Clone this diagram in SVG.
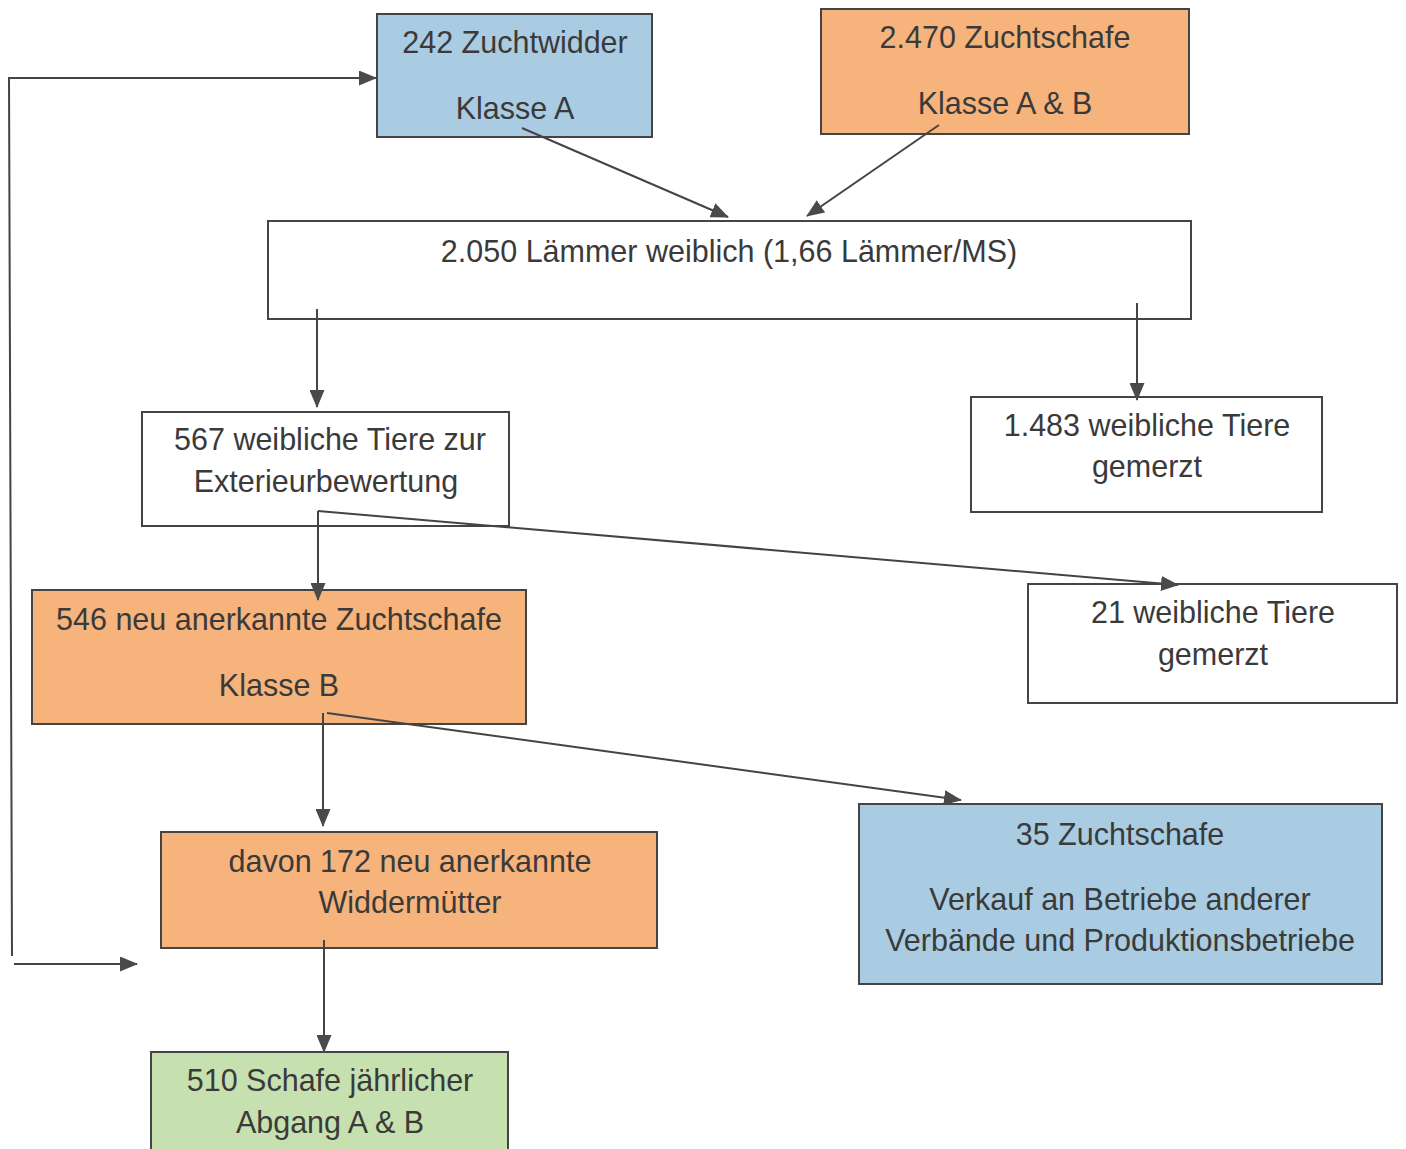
<svg xmlns="http://www.w3.org/2000/svg" width="1406" height="1149" viewBox="0 0 1406 1149">
<style>
.box{stroke:#444;stroke-width:2}
.blue{fill:#a9cce2}
.orange{fill:#f6b37c}
.green{fill:#c7e0b0}
.white{fill:#fff}
text{font-family:"Liberation Sans",Arial,sans-serif;font-size:30.5px;fill:#3a3a3a;text-anchor:middle}
.conn{stroke:#444;stroke-width:2;fill:none;marker-end:url(#arr)}
</style>
<defs>
<marker id="arr" markerUnits="userSpaceOnUse" markerWidth="19" markerHeight="15" refX="17" refY="7.5" orient="auto">
<path d="M0,0 L18,7.5 L0,15 Z" fill="#4a4a4a"/>
</marker>
</defs>
<rect width="1406" height="1149" fill="#fff"/>
<g id="n_zuchtwidder">
<rect class="box blue" x="377" y="14" width="275" height="123"/>
<text x="515" y="53">242 Zuchtwidder</text>
<text x="515" y="119">Klasse A</text>
</g>
<g id="n_zuchtschafe">
<rect class="box orange" x="821" y="9" width="368" height="125"/>
<text x="1005" y="48">2.470 Zuchtschafe</text>
<text x="1005" y="114">Klasse A &amp; B</text>
</g>
<g id="n_laemmer">
<rect class="box white" x="268" y="221" width="923" height="98"/>
<text x="729" y="262">2.050 Lämmer weiblich (1,66 Lämmer/MS)</text>
</g>
<g id="n_567">
<rect class="box white" x="142" y="412" width="367" height="114"/>
<text x="330" y="450">567 weibliche Tiere zur</text>
<text x="326" y="492">Exterieurbewertung</text>
</g>
<g id="n_1483">
<rect class="box white" x="971" y="397" width="351" height="115"/>
<text x="1147" y="436">1.483 weibliche Tiere</text>
<text x="1147" y="477">gemerzt</text>
</g>
<g id="n_21">
<rect class="box white" x="1028" y="584" width="369" height="119"/>
<text x="1213" y="623">21 weibliche Tiere</text>
<text x="1213" y="665">gemerzt</text>
</g>
<g id="n_546">
<rect class="box orange" x="32" y="590" width="494" height="134"/>
<text x="279" y="630">546 neu anerkannte Zuchtschafe</text>
<text x="279" y="696">Klasse B</text>
</g>
<g id="n_172">
<rect class="box orange" x="161" y="832" width="496" height="116"/>
<text x="410" y="872">davon 172 neu anerkannte</text>
<text x="410" y="913">Widdermütter</text>
</g>
<g id="n_35">
<rect class="box blue" x="859" y="804" width="523" height="180"/>
<text x="1120" y="845">35 Zuchtschafe</text>
<text x="1120" y="910">Verkauf an Betriebe anderer</text>
<text x="1120" y="951">Verbände und Produktionsbetriebe</text>
</g>
<g id="n_510">
<rect class="box green" x="151" y="1052" width="357" height="110"/>
<text x="330" y="1091">510 Schafe jährlicher</text>
<text x="330" y="1133">Abgang A &amp; B</text>
</g>
<g id="connectors">
<path class="conn" d="M12,956 L9,78 L376,78"/>
<path class="conn" d="M14,964 L137,964"/>
<path class="conn" d="M522,128 L728,217"/>
<path class="conn" d="M939,125 L807,216"/>
<path class="conn" d="M317,309 L317,407"/>
<path class="conn" d="M1137,303 L1137,400"/>
<path class="conn" d="M318,511 L318,600"/>
<path class="conn" d="M318,511 L1178,585"/>
<path class="conn" d="M323,713 L323,826"/>
<path class="conn" d="M327,713 L961,800"/>
<path class="conn" d="M324,940 L324,1052"/>
</g>
</svg>
